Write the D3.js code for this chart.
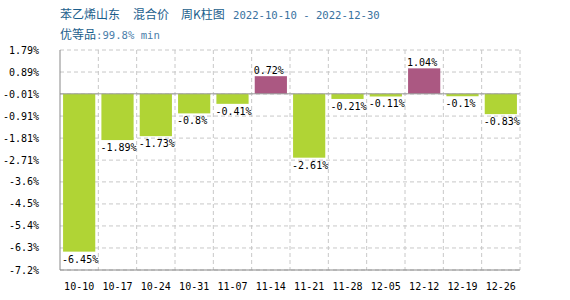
<!DOCTYPE html>
<html>
<head>
<meta charset="UTF-8">
<style>
  body { margin:0; background:#fff; }
  svg text { font-family:"DejaVu Sans Mono",monospace; }
</style>
</head>
<body>
<div id="chart"></div>
<script src="https://d3js.org/d3.v7.min.js"></script>
<script>
// data
const weeks  = ["10-10","10-17","10-24","10-31","11-07","11-14","11-21","11-28","12-05","12-12","12-19","12-26"];
const change = [-6.45,-1.89,-1.73,-0.8,-0.41,0.72,-2.61,-0.21,-0.11,1.04,-0.1,-0.83];
const yTicks = [1.79,0.89,-0.01,-0.91,-1.81,-2.71,-3.6,-4.5,-5.4,-6.3,-7.2];
const titleParts = [["苯乙烯山东", 60], ["混合价", 133], ["周K柱图", 181]];

const W = 570, H = 300;
const m = {l:60, r:50, t:50, b:30};

const svg = d3.select("#chart").append("svg")
  .attr("width", W).attr("height", H);

const x = d3.scaleBand().domain(weeks).range([m.l, W - m.r]).paddingInner(0.16).paddingOuter(0.08);
const y = d3.scaleLinear().domain([-7.2, 1.79]).range([H - m.b, m.t]);
const step = x.step();
const x0 = m.l;

// title
svg.append("g").selectAll("text").data(titleParts).join("text")
  .attr("x", d => d[1]).attr("y", 19).attr("fill", "#1b5e8c")
  .style("font-family", "'Noto Sans CJK SC',sans-serif").style("font-size", "12px")
  .text(d => d[0]);
svg.append("text").attr("x", 233).attr("y", 19).attr("fill", "#3a72a0")
  .style("font-size", "10.6px").text("2022-10-10 - 2022-12-30");

const sub = svg.append("text").attr("x", 60).attr("y", 39).attr("fill", "#1b5e8c");
sub.append("tspan").style("font-family", "'Noto Sans CJK SC',sans-serif").style("font-size", "12px").text("优等品");
sub.append("tspan").style("font-size", "10.6px").attr("fill", "#4a7eaa").text(":99.8% min");

// grid
const grid = svg.append("g").attr("stroke", "#c8c8c8").attr("stroke-dasharray", "4,3");
grid.selectAll(".h").data(yTicks).join("line")
  .attr("x1", m.l).attr("x2", W - m.r)
  .attr("y1", d => y(d)).attr("y2", d => y(d));
grid.selectAll(".v").data(d3.range(1, weeks.length + 1)).join("line")
  .attr("x1", i => x0 + i * step).attr("x2", i => x0 + i * step)
  .attr("y1", m.t).attr("y2", H - m.b);

// y labels
svg.append("g").selectAll("text").data(yTicks).join("text")
  .attr("x", 39).attr("y", d => y(d)).attr("dy", "0.35em")
  .attr("text-anchor", "end").style("font-size", "10px").attr("fill", "#000")
  .text(d => d + "%");

// bars
svg.append("g").selectAll("rect").data(change).join("rect")
  .attr("x", (d, i) => x(weeks[i]))
  .attr("width", x.bandwidth())
  .attr("y", d => y(Math.max(0, d)))
  .attr("height", d => Math.abs(y(d) - y(0)))
  .attr("fill", d => d >= 0 ? "#ab5882" : "#b0d435");

// zero line
svg.append("line").attr("x1", m.l).attr("x2", W - m.r)
  .attr("y1", y(0)).attr("y2", y(0)).attr("stroke", "#999");

// value labels
svg.append("g").selectAll("text").data(change).join("text")
  .attr("x", (d, i) => x(weeks[i]) - 1)
  .attr("y", d => d >= 0 ? y(d) - 2 : y(d) + 11)
  .style("font-size", "10px").attr("fill", "#000")
  .text(d => d + "%");

// axes lines
svg.append("line").attr("x1", m.l).attr("x2", m.l).attr("y1", m.t).attr("y2", H - m.b).attr("stroke", "#888");
svg.append("line").attr("x1", m.l).attr("x2", W - m.r).attr("y1", H - m.b).attr("y2", H - m.b).attr("stroke", "#888");

// x labels
svg.append("g").selectAll("text").data(weeks).join("text")
  .attr("x", d => x(d) + x.bandwidth() / 2).attr("y", 290)
  .attr("text-anchor", "middle").style("font-size", "10px").attr("fill", "#000")
  .text(d => d);
</script>
</body>
</html>
